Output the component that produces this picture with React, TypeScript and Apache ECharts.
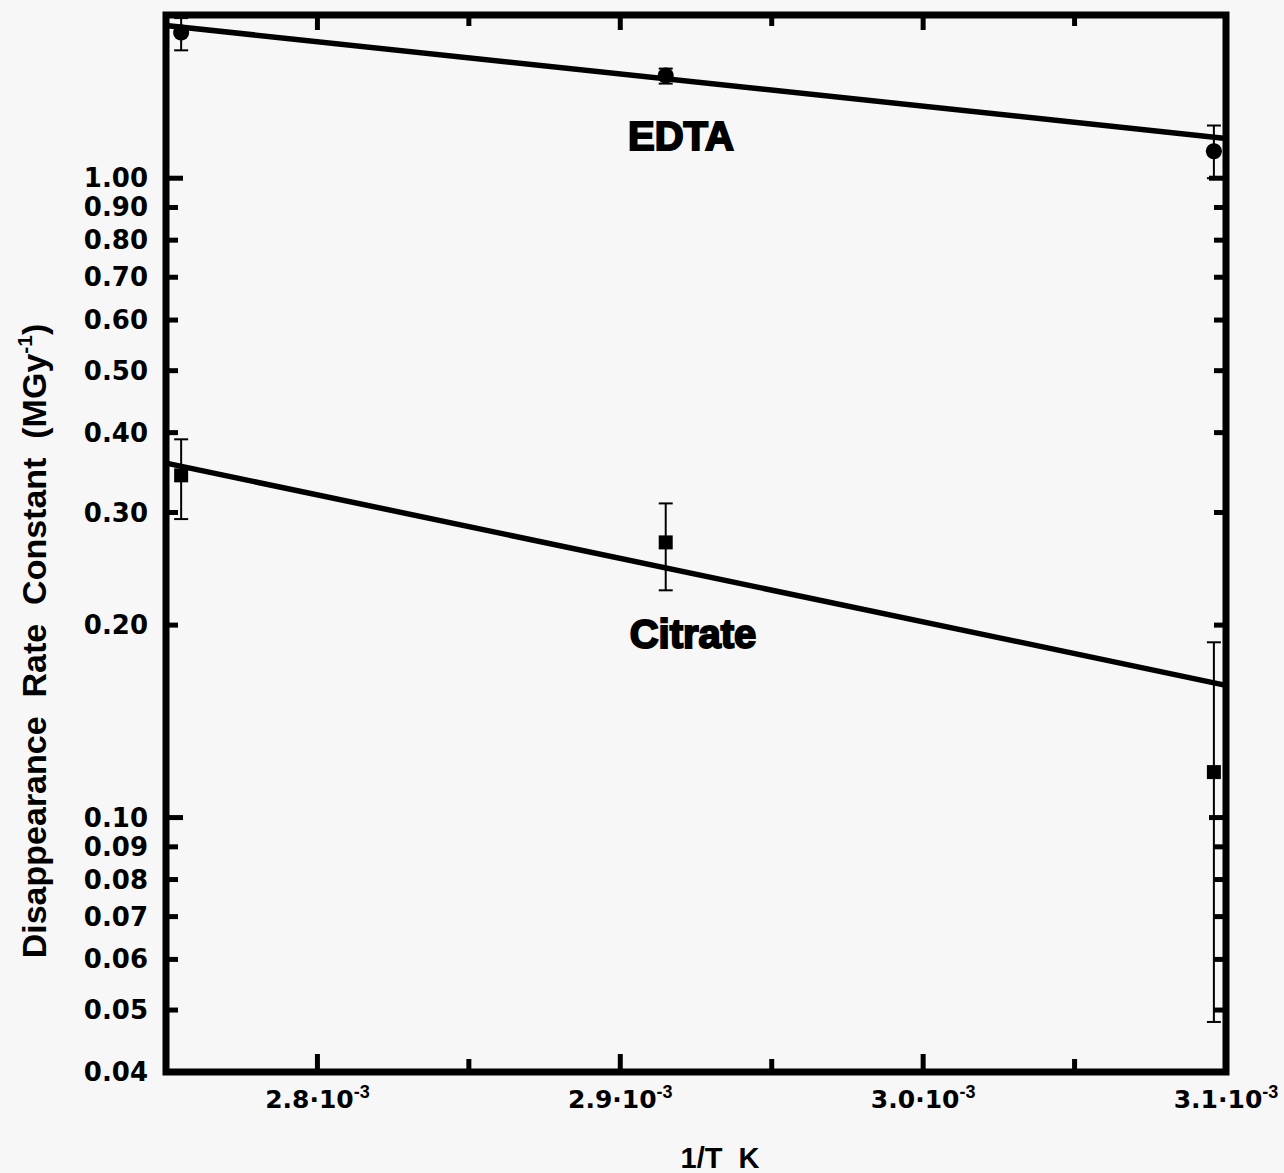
import React, { useEffect, useRef } from "react";
import * as echarts from "echarts";

// Inverse temperature (1/K) of the three measurements
const tempInv = [2.755e-3, 2.915e-3, 3.096e-3];

// EDTA disappearance rate constants (MGy^-1) with error-bar bounds
const edtaRate = [1.69, 1.447, 1.102];
const edtaLow = [1.585, 1.406, 1.0];
const edtaHigh = [1.78, 1.484, 1.209];

// Citrate disappearance rate constants (MGy^-1) with error-bar bounds
const citrateRate = [0.343, 0.2694, 0.1178];
const citrateLow = [0.293, 0.2267, 0.0479];
const citrateHigh = [0.3905, 0.31, 0.188];

// Arrhenius fit lines, end points
const fitX = [2.75e-3, 3.1e-3];
const edtaFit = [1.733, 1.154];
const citrateFit = [0.3584, 0.161];

// Axis ticks
const yTicks = [1.0, 0.9, 0.8, 0.7, 0.6, 0.5, 0.4, 0.3, 0.2, 0.1, 0.09, 0.08, 0.07, 0.06, 0.05, 0.04];
const yTickLabels = ["1.00", "0.90", "0.80", "0.70", "0.60", "0.50", "0.40", "0.30", "0.20", "0.10", "0.09", "0.08", "0.07", "0.06", "0.05", "0.04"];
const yMajorTicks = [1.0, 0.1];
const xTicks = [2.8e-3, 2.85e-3, 2.9e-3, 2.95e-3, 3.0e-3, 3.05e-3, 3.1e-3];
const xTickLabels = ["2.8", "", "2.9", "", "3.0", "", "3.1"];

const X_MIN = 2.75e-3;
const X_MAX = 3.1e-3;
const Y_MIN = 0.04;
const Y_MAX = 1.8;

const INK = "#000";

export default function App() {
  const ref = useRef<HTMLDivElement>(null);

  useEffect(() => {
    if (!ref.current) return;
    const chart = echarts.init(ref.current, undefined, { renderer: "svg" });

    const errorRows = (xs: number[], lo: number[], hi: number[]) =>
      xs.map((x, i) => [x, lo[i], hi[i]]);

    const errorBarSeries = (name: string, rows: number[][]) => ({
      type: "custom",
      name,
      clip: false,
      z: 4,
      data: rows,
      encode: { x: 0, y: [1, 2] },
      renderItem: (_params: any, api: any) => {
        const x = api.value(0);
        const lo = api.coord([x, api.value(1)]);
        const hi = api.coord([x, api.value(2)]);
        const cap = 7;
        const style = { stroke: INK, lineWidth: 2 };
        return {
          type: "group",
          children: [
            { type: "line", shape: { x1: lo[0], y1: lo[1], x2: hi[0], y2: hi[1] }, style },
            { type: "line", shape: { x1: lo[0] - cap, y1: lo[1], x2: lo[0] + cap, y2: lo[1] }, style },
            { type: "line", shape: { x1: hi[0] - cap, y1: hi[1], x2: hi[0] + cap, y2: hi[1] }, style },
          ],
        };
      },
    });

    const option: any = {
      animation: false,
      backgroundColor: "#f7f7f7",
      grid: {
        left: 166,
        top: 15,
        right: 58,
        bottom: 101,
        show: true,
        borderColor: INK,
        borderWidth: 7,
        backgroundColor: "transparent",
      },
      xAxis: {
        type: "value",
        min: X_MIN,
        max: X_MAX,
        axisLine: { show: false },
        axisTick: { show: false },
        axisLabel: { show: false },
        splitLine: { show: false },
      },
      yAxis: {
        type: "log",
        logBase: 10,
        min: Y_MIN,
        max: Y_MAX,
        axisLine: { show: false },
        axisTick: { show: false },
        axisLabel: { show: false },
        splitLine: { show: false },
        minorSplitLine: { show: false },
      },
      series: [
        {
          type: "line",
          name: "EDTA fit",
          data: fitX.map((x, i) => [x, edtaFit[i]]),
          symbol: "none",
          lineStyle: { color: INK, width: 5.5 },
          z: 3,
        },
        {
          type: "line",
          name: "Citrate fit",
          data: fitX.map((x, i) => [x, citrateFit[i]]),
          symbol: "none",
          lineStyle: { color: INK, width: 5.5 },
          z: 3,
        },
        errorBarSeries("EDTA error", errorRows(tempInv, edtaLow, edtaHigh)),
        errorBarSeries("Citrate error", errorRows(tempInv, citrateLow, citrateHigh)),
        {
          type: "scatter",
          name: "EDTA",
          data: tempInv.map((x, i) => [x, edtaRate[i]]),
          symbol: "circle",
          symbolSize: 16,
          itemStyle: { color: INK, opacity: 1 },
          z: 5,
        },
        {
          type: "scatter",
          name: "Citrate",
          data: tempInv.map((x, i) => [x, citrateRate[i]]),
          symbol: "rect",
          symbolSize: 14,
          itemStyle: { color: INK, opacity: 1 },
          z: 5,
        },
        // y ticks on both sides, labels on the left
        {
          type: "custom",
          name: "yTicks",
          clip: false,
          z: 6,
          silent: true,
          data: yTicks.map((v) => [X_MIN, v]),
          renderItem: (params: any, api: any) => {
            const cs = params.coordSys;
            const v = api.value(1);
            const y = api.coord([X_MIN, v])[1];
            const major = yMajorTicks.indexOf(v) >= 0;
            const len = major ? 17 : 12;
            const left = cs.x;
            const right = cs.x + cs.width;
            const tick = { stroke: INK, lineWidth: 5 };
            return {
              type: "group",
              children: [
                { type: "line", shape: { x1: left, y1: y, x2: left + len, y2: y }, style: tick },
                { type: "line", shape: { x1: right - len, y1: y, x2: right, y2: y }, style: tick },
                {
                  type: "text",
                  style: {
                    text: yTickLabels[params.dataIndex],
                    x: left - 18,
                    y,
                    align: "right",
                    verticalAlign: "middle",
                    fontFamily: "DejaVu Sans",
                    fontWeight: "bold",
                    fontSize: 26,
                    fill: INK,
                  },
                },
              ],
            };
          },
        },
        // x ticks on bottom and top, labels below
        {
          type: "custom",
          name: "xTicks",
          clip: false,
          z: 6,
          silent: true,
          data: xTicks.map((v) => [v, Y_MIN]),
          renderItem: (params: any, api: any) => {
            const cs = params.coordSys;
            const x = api.coord([api.value(0), Y_MIN])[0];
            const label = xTickLabels[params.dataIndex];
            const major = label !== "";
            const lenB = major ? 18 : 13;
            const lenT = major ? 15 : 11;
            const top = cs.y;
            const bottom = cs.y + cs.height;
            const tick = { stroke: INK, lineWidth: 5 };
            const children: any[] = [
              { type: "line", shape: { x1: x, y1: bottom, x2: x, y2: bottom - lenB }, style: tick },
              { type: "line", shape: { x1: x, y1: top, x2: x, y2: top + lenT }, style: tick },
            ];
            if (major) {
              children.push({
                type: "text",
                style: {
                  text: `{m|${label}\u00b710}{s|-3}`,
                  x,
                  y: bottom + 11,
                  align: "center",
                  verticalAlign: "top",
                  fill: INK,
                  rich: {
                    m: { fontFamily: "DejaVu Sans", fontWeight: "bold", fontSize: 25, lineHeight: 32 },
                    s: { fontFamily: "Liberation Sans", fontWeight: "bold", fontSize: 18, verticalAlign: "top", lineHeight: 20 },
                  },
                },
              });
            }
            return { type: "group", children };
          },
        },
      ],
      graphic: [
        {
          type: "text",
          x: 681,
          y: 136,
          style: {
            text: "EDTA",
            fontFamily: "Liberation Sans",
            fontWeight: "bold",
            fontSize: 40,
            fill: INK,
            stroke: INK,
            lineWidth: 2,
            align: "center",
            verticalAlign: "middle",
          },
        },
        {
          type: "text",
          x: 693,
          y: 634,
          style: {
            text: "Citrate",
            fontFamily: "Liberation Sans",
            fontWeight: "bold",
            fontSize: 40,
            fill: INK,
            stroke: INK,
            lineWidth: 2,
            align: "center",
            verticalAlign: "middle",
          },
        },
        {
          type: "text",
          x: 720,
          y: 1143,
          style: {
            text: "1/T  K",
            fontFamily: "Liberation Sans",
            fontWeight: "bold",
            fontSize: 29,
            fill: INK,
            align: "center",
            verticalAlign: "top",
          },
        },
        {
          type: "text",
          x: 34,
          y: 641,
          rotation: Math.PI / 2,
          style: {
            text: "{t|Disappearance  Rate  Constant  (MGy}{s|-1}{t|)}",
            align: "center",
            verticalAlign: "middle",
            fill: INK,
            rich: {
              t: { fontFamily: "Liberation Sans", fontWeight: "bold", fontSize: 34, lineHeight: 40 },
              s: { fontFamily: "Liberation Sans", fontWeight: "bold", fontSize: 21, verticalAlign: "top", lineHeight: 22 },
            },
          },
        },
      ],
    };

    chart.setOption(option);
    return () => chart.dispose();
  }, []);

  return (
    <div
      ref={ref}
      style={{ position: "fixed", left: 0, top: 0, width: 1284, height: 1173 }}
    />
  );
}
